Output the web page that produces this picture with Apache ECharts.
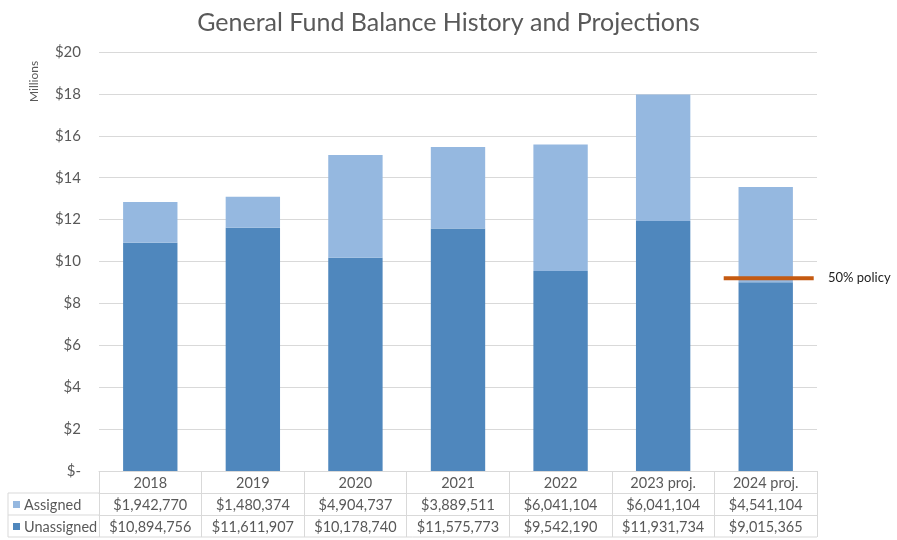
<!DOCTYPE html>
<html>
<head>
<meta charset="utf-8">
<script src="https://cdn.jsdelivr.net/npm/echarts@6/dist/echarts.min.js"></script>
<style>
  html, body { margin: 0; padding: 0; background: #fff; }
  #main { width: 897px; height: 540px; }
</style>
</head>
<body>
<div id="main"></div>
<script>
  // data
  const years = ['2018', '2019', '2020', '2021', '2022', '2023 proj.', '2024 proj.']
  const assigned = [1942770, 1480374, 4904737, 3889511, 6041104, 6041104, 4541104]
  const unassigned = [10894756, 11611907, 10178740, 11575773, 9542190, 11931734, 9015365]
  const yTicks = [0, 2, 4, 6, 8, 10, 12, 14, 16, 18, 20]
  const policyValue = 9.2 // millions, orange marker on 2024 proj.

  const cUnassigned = '#4f87bd'
  const cAssigned = '#95b8e0'
  const cText = '#595959'
  const cGrid = '#d9d9d9'
  const font = 'Lato, "Open Sans", sans-serif'

  const money = (v) => '$' + v.toLocaleString('en-US')

  const dom = document.getElementById('main')
  const myChart = echarts.init(dom)

  const tableAxis = (labels, offset) => ({
    type: 'category',
    position: 'bottom',
    offset: offset,
    data: labels,
    boundaryGap: true,
    axisLine: { show: true, lineStyle: { color: cGrid, width: 1 } },
    axisTick: { show: true, interval: 0, length: 22, lineStyle: { color: cGrid } },
    axisLabel: { interval: 0, color: cText, fontSize: 14.5, fontFamily: font, margin: 5 },
    splitLine: { show: false }
  })

  myChart.setOption({
    animation: false,
    title: {
      text: 'General Fund Balance History and Projections',
      left: 'center',
      top: 5,
      textStyle: { color: cText, fontSize: 25, fontWeight: 'normal', fontFamily: font }
    },
    grid: { left: 99, right: 80, top: 52, bottom: 69 },
    xAxis: [
      tableAxis(years, 0),
      tableAxis(assigned.map(money), 22),
      tableAxis(unassigned.map(money), 44)
    ],
    yAxis: {
      type: 'value',
      min: yTicks[0],
      max: yTicks[yTicks.length - 1],
      interval: 2,
      axisLine: { show: false },
      axisTick: { show: false },
      splitLine: { lineStyle: { color: cGrid } },
      axisLabel: {
        color: cText,
        fontSize: 15,
        fontFamily: font,
        margin: 18,
        formatter: (v) => (v === 0 ? '$-' : '$' + v)
      }
    },
    series: [
      {
        name: 'Unassigned',
        type: 'bar',
        stack: 'fund',
        barCategoryGap: '47%',
        itemStyle: { color: cUnassigned },
        data: unassigned.map((v) => v / 1e6)
      },
      {
        name: 'Assigned',
        type: 'bar',
        stack: 'fund',
        barCategoryGap: '47%',
        itemStyle: { color: cAssigned },
        data: assigned.map((v) => v / 1e6)
      }
    ]
  })

  // table frame, row labels, policy marker
  const rowTop = 493
  const rowH = 22
  const left = 8
  const plotLeft = 99
  const plotRight = 817
  const line = (x1, y1, x2, y2, color, w) => ({
    type: 'line',
    z: 100,
    shape: { x1, y1, x2, y2 },
    style: { stroke: color, lineWidth: w || 1 }
  })
  const rowLabel = (name, color, y) => ([
    { type: 'rect', shape: { x: 13, y: y - 4, width: 7, height: 7 }, style: { fill: color } },
    {
      type: 'text',
      style: { text: name, x: 24, y: y, fill: cText, font: '14.5px ' + font, textVerticalAlign: 'middle' }
    }
  ])

  const last = years[years.length - 1]
  const center = myChart.convertToPixel({ xAxisIndex: 0 }, last)
  const py = myChart.convertToPixel({ yAxisIndex: 0 }, policyValue)

  myChart.setOption({
    graphic: [
      line(left, rowTop, plotLeft, rowTop, cGrid),
      line(left, rowTop + rowH, plotLeft, rowTop + rowH, cGrid),
      line(left, rowTop + 2 * rowH, plotRight, rowTop + 2 * rowH, cGrid),
      line(left, rowTop, left, rowTop + 2 * rowH, cGrid),
      ...rowLabel('Assigned', cAssigned, rowTop + rowH / 2 + 1),
      ...rowLabel('Unassigned', cUnassigned, rowTop + rowH * 1.5 + 1),
      line(center - 42, py, center + 48, py, '#c55a11', 4),
      {
        type: 'text',
        style: { text: '50% policy', x: 828, y: py, fill: '#222', font: '13px ' + font, textVerticalAlign: 'middle' }
      },
      {
        type: 'text',
        rotation: Math.PI / 2,
        x: 34,
        y: 102,
        style: { text: 'Millions', fill: cText, font: '12px ' + font, textVerticalAlign: 'middle' }
      }
    ]
  })
</script>
</body>
</html>
